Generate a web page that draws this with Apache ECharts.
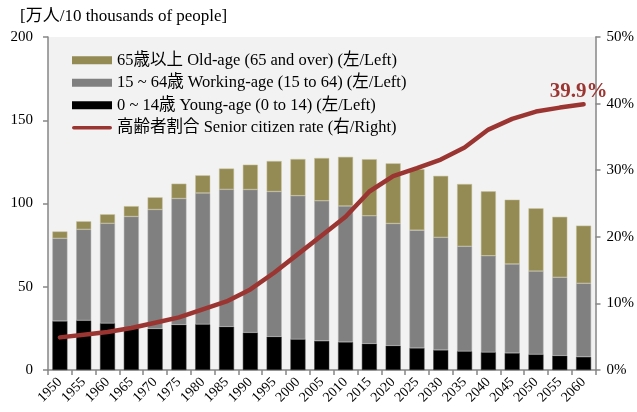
<!DOCTYPE html>
<html>
<head>
<meta charset="utf-8">
<script src="https://cdn.jsdelivr.net/npm/echarts@6/dist/echarts.min.js"></script>
<style>
  html, body { margin: 0; padding: 0; background: #fff; }
  #chart { width: 637px; height: 412px; }
</style>
</head>
<body>
<div id="chart"></div>
<script>
// Population by age group (10 thousands) and share aged 65+ (%)
const years = ['1950','1955','1960','1965','1970','1975','1980','1985','1990','1995','2000','2005','2010','2015','2020','2025','2030','2035','2040','2045','2050','2055','2060'];
const youngAge   = [29.4, 29.8, 28.1, 25.2, 24.8, 27.2, 27.5, 26.0, 22.5, 20.0, 18.5, 17.5, 16.8, 15.8, 14.6, 13.2, 12.0, 11.3, 10.7, 10.2, 9.4, 8.6, 7.9];
const workingAge = [49.7, 54.7, 60.0, 67.0, 71.6, 75.8, 78.8, 82.5, 85.9, 87.2, 86.2, 84.1, 81.7, 76.8, 73.4, 70.8, 67.7, 63.0, 57.9, 53.5, 50.0, 47.1, 44.2];
const oldAge     = [4.1, 4.8, 5.4, 6.2, 7.3, 8.9, 10.6, 12.5, 14.9, 18.3, 22.0, 25.7, 29.5, 34.0, 36.1, 36.6, 36.9, 37.4, 38.7, 38.6, 37.7, 36.3, 34.6];
const seniorRate = [4.9, 5.3, 5.7, 6.3, 7.1, 7.9, 9.1, 10.3, 12.1, 14.6, 17.4, 20.2, 23.0, 26.8, 29.1, 30.3, 31.6, 33.4, 36.1, 37.7, 38.8, 39.4, 39.9];
const leftTicks  = { min: 0, max: 200, interval: 50 };
const rightTicks = { min: 0, max: 50, interval: 10 };

const names = {
  old: '65歳以上 Old-age (65 and over) (左/Left)',
  work: '15 ~ 64歳 Working-age (15 to 64) (左/Left)',
  young: '0 ~ 14歳 Young-age (0 to 14) (左/Left)',
  rate: '高齢者割合 Senior citizen rate (右/Right)'
};

const FONT = "'Liberation Serif', 'Noto Sans CJK JP', serif";
const RED = '#9b3532';
const axisLineStyle = { color: '#868686', width: 1.5 };
const lastIdx = seniorRate.length - 1;

const chart = echarts.init(document.getElementById('chart'), null, { renderer: 'canvas' });
chart.setOption({
  animation: false,
  textStyle: { fontFamily: FONT },
  title: {
    text: '[万人/10 thousands of people]',
    left: 15, top: 3,
    textStyle: { fontFamily: FONT, fontSize: 17, fontWeight: 'normal', color: '#000' }
  },
  grid: {
    left: 48, right: 34, top: 37, bottom: 42,
    show: true, backgroundColor: '#f2f2f2', borderWidth: 0
  },
  legend: {
    orient: 'vertical',
    left: 67, top: 47,
    itemWidth: 40, itemHeight: 8, itemGap: 6,
    itemStyle: { borderWidth: 0 },
    data: [
      { name: names.old, icon: 'rect' },
      { name: names.work, icon: 'rect' },
      { name: names.young, icon: 'rect' },
      { name: names.rate, icon: 'path://M2,0 L42,0 A2,2 0 0 1 42,4 L2,4 A2,2 0 0 1 2,0 Z' }
    ],
    textStyle: { fontFamily: FONT, fontSize: 16.5, color: '#000' }
  },
  xAxis: {
    type: 'category',
    data: years,
    axisLine: { lineStyle: axisLineStyle },
    axisTick: { show: true, length: 5, lineStyle: axisLineStyle },
    axisLabel: { rotate: 45, color: '#000', fontSize: 14, fontFamily: FONT, margin: 10, interval: 0 }
  },
  yAxis: [
    {
      type: 'value', min: leftTicks.min, max: leftTicks.max, interval: leftTicks.interval,
      axisLine: { show: true, lineStyle: axisLineStyle },
      axisTick: { show: true, length: 5, lineStyle: axisLineStyle },
      splitLine: { show: false },
      axisLabel: { color: '#000', fontSize: 15, fontFamily: FONT, margin: 15 }
    },
    {
      type: 'value', min: rightTicks.min, max: rightTicks.max, interval: rightTicks.interval,
      position: 'right',
      axisLine: { show: true, lineStyle: axisLineStyle },
      axisTick: { show: true, length: 5, lineStyle: axisLineStyle },
      splitLine: { show: false },
      axisLabel: { color: '#000', fontSize: 15, fontFamily: FONT, margin: 11, formatter: '{value}%' }
    }
  ],
  series: [
    {
      name: names.young, type: 'bar', stack: 'pop', data: youngAge, barWidth: 15,
      itemStyle: { color: '#000000', borderColor: '#3a3a3a', borderWidth: 0.5 }
    },
    {
      name: names.work, type: 'bar', stack: 'pop', data: workingAge, barWidth: 15,
      itemStyle: { color: '#808080', borderColor: '#b0b0b0', borderWidth: 0.5 }
    },
    {
      name: names.old, type: 'bar', stack: 'pop', data: oldAge, barWidth: 15,
      itemStyle: { color: '#948a54', borderColor: '#c9c29a', borderWidth: 0.5 }
    },
    {
      name: names.rate, type: 'line', yAxisIndex: 1, data: seniorRate,
      symbol: 'none', smooth: false, z: 5,
      lineStyle: { color: RED, width: 4.5, cap: 'round', join: 'round' },
      itemStyle: { color: RED },
      markPoint: {
        symbol: 'circle', symbolSize: 1,
        itemStyle: { color: 'rgba(0,0,0,0)' },
        data: [{ coord: [years[lastIdx], seniorRate[lastIdx]], value: seniorRate[lastIdx] }],
        label: {
          show: true, position: 'inside', offset: [-5, -13], formatter: '{c}%',
          color: RED, fontSize: 21, fontWeight: 'bold', fontFamily: FONT
        }
      }
    }
  ]
});
</script>
</body>
</html>
